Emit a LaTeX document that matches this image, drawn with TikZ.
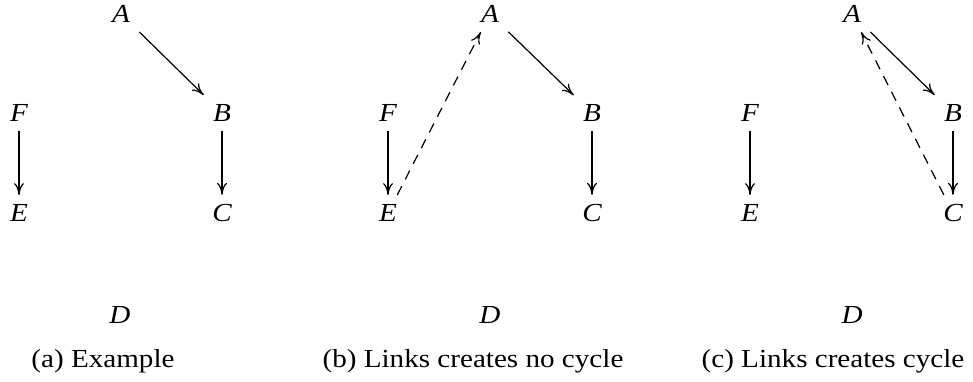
\documentclass[tikz,border=0pt]{standalone}
\usepackage{fontspec}
\setmainfont{Liberation Serif}[FakeStretch=1.12]
\usetikzlibrary{arrows.meta}
\begin{document}
\begin{tikzpicture}[x=0.5pt,y=-0.5pt,
  v/.style={inner sep=4.5pt, font=\fontsize{13}{15}\selectfont\itshape},
  e/.style={-{To[length=6pt,width=5pt]}, line width=0.6pt},
  d/.style={e, dash pattern=on 5pt off 3.8pt},
  capt/.style={font=\fontsize{13}{15}\selectfont, anchor=base, inner sep=0pt}]
\useasboundingbox (0,0) rectangle (973,381);
% panel a
\node[v] (aA) at (121,14) {A};
\node[v] (aB) at (222,113) {B};
\node[v] (aF) at (19,113) {F};
\node[v] (aE) at (19,213) {E};
\node[v] (aC) at (222,213) {C};
\node[v] (aD) at (120,315) {D};
\node[capt] (capa) at (103,367) {(a) Example};
\draw[e] (aA) -- (aB);
\draw[e] (aF) -- (aE);
\draw[e] (aB) -- (aC);
% panel b
\node[v] (bA) at (490,14) {A};
\node[v] (bB) at (592,113) {B};
\node[v] (bF) at (388,113) {F};
\node[v] (bE) at (388,213) {E};
\node[v] (bC) at (592,213) {C};
\node[v] (bD) at (490,315) {D};
\node[capt] (capb) at (473,367) {(b) Links creates no cycle};
\draw[e] (bA) -- (bB);
\draw[e] (bF) -- (bE);
\draw[e] (bB) -- (bC);
\draw[d] (bE) -- (bA);
% panel c
\node[v] (cA) at (852,14) {A};
\node[v] (cB) at (953,113) {B};
\node[v] (cF) at (750,113) {F};
\node[v] (cE) at (750,213) {E};
\node[v] (cC) at (953,213) {C};
\node[v] (cD) at (852,315) {D};
\node[capt] (capc) at (833,367) {(c) Links creates cycle};
\draw[e] (cA) -- (cB);
\draw[e] (cF) -- (cE);
\draw[e] (cB) -- (cC);
\draw[d] (cC) -- (cA);
\end{tikzpicture}
\end{document}
